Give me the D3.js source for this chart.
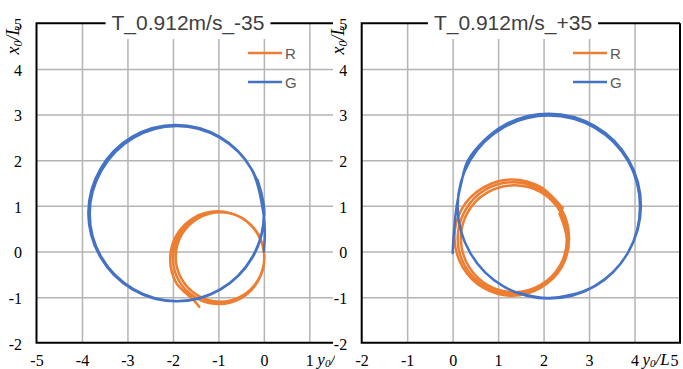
<!DOCTYPE html>
<html>
<head>
<meta charset="utf-8">
<script src="https://cdn.jsdelivr.net/npm/d3@7"></script>
<style>
  body { margin: 0; background: #fff; }
  svg { display: block; }
</style>
</head>
<body>
<div class="chart"></div>
<script>
// Chart texts and ticks
var titles = ["T_0.912m/s_-35", "T_0.912m/s_+35"];
var seriesNames = ["R", "G"];
var xTicksLeft = [-5, -4, -3, -2, -1, 0, 1];
var xTicksRight = [-2, -1, 0, 1, 2, 3, 4, 5];
var yTicks = [-2, -1, 0, 1, 2, 3, 4, 5];

// Trajectories, [y0/L, x0/L]
var leftR = [
  [-0.12, 0.38], [-0.47, 0.73], [-0.96, 0.86], [-1.44, 0.73], [-1.80, 0.38], [-1.94, -0.11],
  [-1.81, -0.60], [-1.46, -0.96], [-0.97, -1.10], [-0.48, -0.97], [-0.12, -0.61], [0.01, -0.12],
  [-0.12, 0.37], [-0.49, 0.74], [-0.99, 0.87], [-1.49, 0.74], [-1.86, 0.37], [-2.00, -0.13],
  [-1.87, -0.64], [-1.50, -1.01], [-1.00, -1.15], [-0.50, -1.02], [-0.13, -0.65], [0.01, -0.15],
  [-0.13, 0.37], [-0.50, 0.74], [-1.02, 0.88], [-1.54, 0.74], [-1.92, 0.36], [-2.06, -0.16],
  [-1.93, -0.68], [-1.55, -1.06], [-1.42, -1.21]
];
var leftG = [
  [0.00, 0.00], [0.02, 0.40], [-0.01, 0.84], [-0.27, 1.80], [-0.97, 2.51], [-1.94, 2.77],
  [-2.90, 2.51], [-3.60, 1.80], [-3.86, 0.84], [-3.59, -0.13], [-2.89, -0.83], [-1.93, -1.09],
  [-0.96, -0.83], [-0.26, -0.13], [0.00, 0.83], [-0.26, 1.79], [-0.96, 2.49], [-1.92, 2.75],
  [-2.87, 2.49], [-3.57, 1.78], [-3.83, 0.83], [-3.57, -0.13], [-2.86, -0.83], [-1.91, -1.09],
  [-0.95, -0.83], [-0.25, -0.13], [0.01, 0.82], [-0.14, 1.57]
];
var rightR = [
  [2.35, 0.83], [2.51, 0.26], [2.36, -0.31], [1.94, -0.73], [1.36, -0.89], [0.78, -0.74],
  [0.35, -0.32], [0.18, 0.27], [0.33, 0.86], [0.76, 1.29], [1.35, 1.45], [1.94, 1.30],
  [2.37, 0.87], [2.54, 0.27], [2.38, -0.32], [1.94, -0.76], [1.34, -0.93], [0.73, -0.77],
  [0.28, -0.33], [0.11, 0.28], [0.27, 0.89], [0.71, 1.35], [1.33, 1.52], [1.94, 1.36],
  [2.40, 0.91], [2.56, 0.29], [2.40, -0.34], [1.94, -0.79], [1.31, -0.97], [0.68, -0.80],
  [0.22, -0.34], [0.04, 0.29], [0.20, 0.93], [0.67, 1.40], [1.30, 1.58], [1.94, 1.41],
  [2.42, 0.95]
];
var rightG = [
  [0.00, -0.03], [0.03, 0.45], [0.09, 1.00], [0.19, 1.50], [0.35, 2.02], [1.10, 2.75],
  [2.11, 3.02], [3.13, 2.75], [3.87, 2.01], [4.14, 0.99], [3.86, -0.02], [3.13, -0.76],
  [2.12, -1.03], [1.11, -0.76], [0.38, -0.02], [0.11, 0.98], [0.38, 1.99], [1.12, 2.72],
  [2.12, 2.98], [3.13, 2.71], [3.86, 1.98], [4.12, 0.98], [3.86, -0.02], [3.13, -0.75],
  [2.13, -1.02], [1.45, -0.90]
];

var colors = ["#ED7D31", "#4472C4"];

var svgWidth = 683;
var svgHeight = 369;

var svg = d3.select(".chart")
  .append("svg")
  .attr("width", svgWidth)
  .attr("height", svgHeight);

// the left picture is cut off on its right side
svg.append("defs").append("clipPath")
  .attr("id", "leftClip")
  .append("rect")
  .attr("x", 0).attr("y", 0)
  .attr("width", 335).attr("height", svgHeight);

var plotTop = 23.3;
var plotBottom = 342.8;

var charts = [
  { title: titles[0], xDomain: [-5, 1.52], xRange: [36.5, 333], xTicks: xTicksLeft,
    series: [leftR, leftG], titleX: 188, legendX: 248, xTitleAfter: 1, boxed: false, clip: "leftClip" },
  { title: titles[1], xDomain: [-2, 5], xRange: [361.7, 680], xTicks: xTicksRight,
    series: [rightR, rightG], titleX: 513, legendX: 573, xTitleAfter: 4, boxed: true, clip: null }
];

var serif = "Liberation Serif";
var sans = "Liberation Sans";

charts.forEach(function(cfg) {
  var g = svg.append("g");
  if (cfg.clip) g.attr("clip-path", "url(#" + cfg.clip + ")");

  var x = d3.scaleLinear().domain(cfg.xDomain).range(cfg.xRange);
  var y = d3.scaleLinear().domain([-2, 5]).range([plotBottom, plotTop]);
  var left = cfg.xRange[0], right = cfg.xRange[1];

  // gridlines
  var vGrid = cfg.xTicks.filter(d => d > cfg.xDomain[0] && d < cfg.xDomain[1]);
  var hGrid = yTicks.filter(d => d > -2 && d < 5);

  g.append("g")
    .attr("transform", `translate(0, ${plotBottom})`)
    .call(d3.axisBottom(x).tickValues(vGrid).tickSize(-(plotBottom - plotTop)).tickFormat(""))
    .call(a => a.select(".domain").remove())
    .selectAll("line").attr("stroke", "#b4b4b4").attr("stroke-width", 1.5);

  g.append("g")
    .attr("transform", `translate(${left}, 0)`)
    .call(d3.axisLeft(y).tickValues(hGrid).tickSize(-(right - left)).tickFormat(""))
    .call(a => a.select(".domain").remove())
    .selectAll("line").attr("stroke", "#b4b4b4").attr("stroke-width", 1.5);

  // plot border
  var border = [[right, plotTop], [left, plotTop], [left, plotBottom], [right, plotBottom]];
  if (cfg.boxed) border.push([right, plotTop]);
  g.append("path")
    .attr("d", d3.line()(border))
    .attr("fill", "none")
    .attr("stroke", "#000")
    .attr("stroke-width", 2);

  // title on a white patch over the top border
  var titleG = g.append("g");
  var titleBg = titleG.append("rect").attr("fill", "#fff");
  var titleText = titleG.append("text")
    .attr("x", cfg.titleX)
    .attr("y", 30)
    .attr("text-anchor", "middle")
    .attr("font-family", sans)
    .attr("font-size", 21)
    .attr("fill", "#404040")
    .text(cfg.title);
  var bb = titleText.node().getBBox();
  titleBg.attr("x", bb.x - 6).attr("y", 8)
    .attr("width", bb.width + 12).attr("height", 31);

  // series
  var line = d3.line()
    .x(d => x(d[0]))
    .y(d => y(d[1]))
    .curve(d3.curveCatmullRom.alpha(0.5));

  cfg.series.forEach(function(s, j) {
    g.append("path")
      .datum(s)
      .attr("d", line)
      .attr("fill", "none")
      .attr("stroke", colors[j])
      .attr("stroke-width", 2.5)
      .attr("stroke-linejoin", "round")
      .attr("stroke-linecap", "round");
  });

  // legend
  seriesNames.forEach(function(name, j) {
    var ly = 53 + j * 29;
    g.append("line")
      .attr("x1", cfg.legendX).attr("x2", cfg.legendX + 34)
      .attr("y1", ly).attr("y2", ly)
      .attr("stroke", colors[j])
      .attr("stroke-width", 2.5);
    g.append("text")
      .attr("x", cfg.legendX + 37)
      .attr("y", ly + 5.5)
      .attr("font-family", sans)
      .attr("font-size", 15)
      .attr("fill", "#595959")
      .text(name);
  });

  // tick labels
  var xAxis = g.append("g")
    .attr("transform", `translate(0, ${plotBottom})`)
    .call(d3.axisBottom(x).tickValues(cfg.xTicks).tickSize(0).tickPadding(12).tickFormat(d => String(d)))
    .attr("font-family", serif)
    .attr("font-size", 16);
  xAxis.select(".domain").remove();
  xAxis.selectAll("text")
    .attr("fill", "#000")
    .attr("x", d => d === cfg.xDomain[1] ? -6 : 0);

  var yAxis = g.append("g")
    .attr("transform", `translate(${left}, 0)`)
    .call(d3.axisLeft(y).tickValues(yTicks).tickSize(0).tickPadding(14.5).tickFormat(d => String(d)))
    .attr("font-family", serif)
    .attr("font-size", 16);
  yAxis.select(".domain").remove();
  yAxis.selectAll("text")
    .attr("fill", "#000")
    .attr("dy", "0.4em");

  // axis titles
  var xTitle = g.append("text")
    .attr("x", x(cfg.xTitleAfter) + 8)
    .attr("y", 364.5)
    .attr("font-family", serif)
    .attr("font-style", "italic")
    .attr("font-size", 17);
  xTitle.append("tspan").text("y");
  xTitle.append("tspan").attr("font-size", 11).attr("dy", 2.5).text("0");
  xTitle.append("tspan").attr("dy", -2.5).text("/L");

  var yTitle = g.append("text")
    .attr("transform", `translate(${left - 18}, 40) rotate(-90)`)
    .attr("text-anchor", "middle")
    .attr("font-family", serif)
    .attr("font-style", "italic")
    .attr("font-size", 18);
  yTitle.append("tspan").text("x");
  yTitle.append("tspan").attr("font-size", 12).attr("dy", 3).text("0");
  yTitle.append("tspan").attr("dy", -3).text("/L");
});
</script>
</body>
</html>
